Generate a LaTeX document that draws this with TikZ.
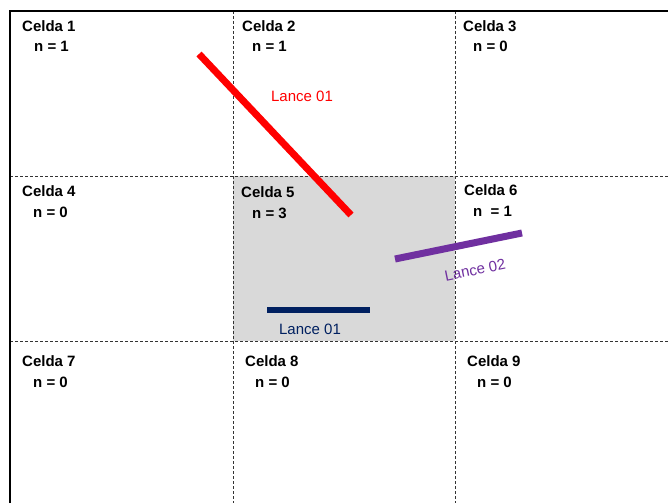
\documentclass[tikz,border=0pt]{standalone}
\usepackage{fontspec}
\setmainfont{Liberation Sans}
\definecolor{cellgray}{HTML}{D9D9D9}
\definecolor{lancered}{HTML}{FF0000}
\definecolor{lancepurple}{HTML}{7030A0}
\definecolor{lancenavy}{HTML}{002060}
\begin{document}
\begin{tikzpicture}[x=1pt,y=-1pt,
  celllabel/.style={anchor=base west,inner sep=0pt,font=\fontsize{15}{17}\selectfont\bfseries},
  lancelabel/.style={inner sep=0pt,font=\fontsize{15}{17}\selectfont},
  gridline/.style={dashed,dash pattern=on 3pt off 2pt,line width=0.7pt,black!80},
  border/.style={line width=1.6pt,black},
  lance/.style={line width=7pt}]
\useasboundingbox (0,0) rectangle (668,503);
\fill[white] (0,0) rectangle (668,503);
% highlighted cell
\fill[cellgray] (233,176) rectangle (455,341);
% grid
\draw[gridline] (10,176) -- (668,176);
\draw[gridline] (10,341) -- (668,341);
\draw[gridline] (233,11) -- (233,503);
\draw[gridline] (455,11) -- (455,503);
% borders
\draw[border] (10,503) -- (10,11) -- (668,11);
% cell labels
\node[celllabel] (c1) at (22,31) {Celda 1};
\node[celllabel] (n1) at (34,52) {n = 1};
\node[celllabel] (c2) at (242,31) {Celda 2};
\node[celllabel] (n2) at (252,52) {n = 1};
\node[celllabel] (c3) at (463,31) {Celda 3};
\node[celllabel] (n3) at (473,52) {n = 0};
\node[celllabel] (c4) at (22,196) {Celda 4};
\node[celllabel] (n4) at (33,217) {n = 0};
\node[celllabel] (c5) at (241,197) {Celda 5};
\node[celllabel] (n5) at (252,218) {n = 3};
\node[celllabel] (c6) at (464,195) {Celda 6};
\node[celllabel] (n6) at (473,216) {n\ \ = 1};
\node[celllabel] (c7) at (22,366) {Celda 7};
\node[celllabel] (n7) at (33,387) {n = 0};
\node[celllabel] (c8) at (245,366) {Celda 8};
\node[celllabel] (n8) at (255,387) {n = 0};
\node[celllabel] (c9) at (467,366) {Celda 9};
\node[celllabel] (n9) at (477,387) {n = 0};
% lances
\coordinate (r1) at (199,54);
\coordinate (r2) at (351,215);
\draw[lance,lancered] (r1) -- (r2);
\node[lancelabel,text=lancered] (lr) at (302,96) {Lance 01};
\coordinate (p1) at (395,259);
\coordinate (p2) at (522,233);
\draw[lance,lancepurple] (p1) -- (p2);
\node[lancelabel,text=lancepurple,rotate=11.5] (lp) at (475,270) {Lance 02};
\coordinate (b1) at (267,309.5);
\coordinate (b2) at (370,309.5);
\draw[lance,lancenavy,line width=6pt] (b1) -- (b2);
\node[lancelabel,text=lancenavy] (lb) at (310,329) {Lance 01};
\end{tikzpicture}
\end{document}
